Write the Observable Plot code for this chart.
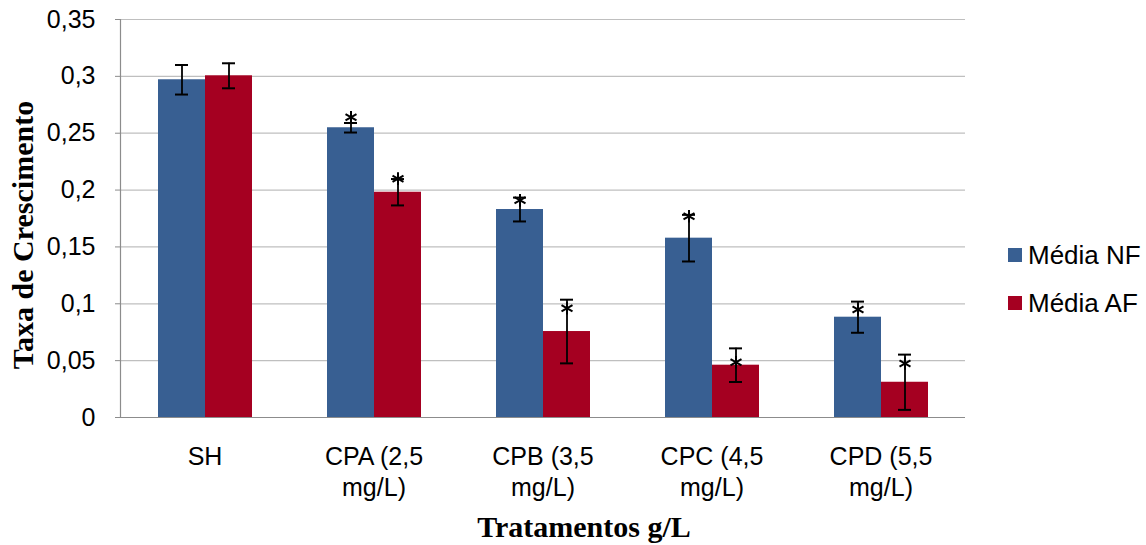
<!DOCTYPE html>
<html>
<head>
<meta charset="utf-8">
<script src="https://cdn.jsdelivr.net/npm/d3@7"></script>
<script src="https://cdn.jsdelivr.net/npm/@observablehq/plot@0.6"></script>
<style>
  html, body { margin: 0; padding: 0; background: #fff; }
  #wrap { position: relative; width: 1146px; height: 545px; font-family: "Liberation Sans", Arial, sans-serif; }
  #wrap svg { position: absolute; left: 0; top: 0; }
  .title { position: absolute; font-family: "Liberation Serif", "Times New Roman", serif; font-weight: bold; font-size: 30px; line-height: 30px; color: #000; white-space: nowrap; }
  #xtitle { left: 0; width: 1168px; top: 512px; text-align: center; }
  #ytitle { left: 23px; top: 235px; transform: translate(-50%, -50%) rotate(-90deg); }
  #legend { position: absolute; left: 1008px; top: 240px; font-size: 26px; color: #000; }
  #legend .row { display: flex; align-items: center; height: 30px; margin-bottom: 18px; }
  #legend .sw { width: 14px; height: 14px; margin-right: 6px; }
</style>
</head>
<body>
<div id="wrap"></div>
<script>
const categories = ["SH", "CPA (2,5\nmg/L)", "CPB (3,5\nmg/L)", "CPC (4,5\nmg/L)", "CPD (5,5\nmg/L)"];
const series = ["Média NF", "Média AF"];
const colors = ["#385F92", "#A50021"];
const mediaNF = [0.297, 0.2548, 0.1829, 0.1577, 0.0882];
const mediaAF = [0.3005, 0.1981, 0.0756, 0.046, 0.031];
const erroNF = [0.013, 0.0042, 0.0105, 0.0205, 0.0137];
const erroAF = [0.011, 0.0116, 0.028, 0.0148, 0.0243];
const asteriscoNF = [null, 0.264, 0.191, 0.177, 0.095];
const asteriscoAF = [null, 0.210, 0.0961, 0.0486, 0.0475];
const yTicks = [0, 0.05, 0.1, 0.15, 0.2, 0.25, 0.3, 0.35];
const yTickLabels = ["0", "0,05", "0,1", "0,15", "0,2", "0,25", "0,3", "0,35"];
const xTitle = "Tratamentos g/L";
const yTitle = "Taxa de Crescimento";

const data = [];
categories.forEach((c, i) => {
  data.push({cat: c, serie: series[0], valor: mediaNF[i], erro: erroNF[i], ast: asteriscoNF[i]});
  data.push({cat: c, serie: series[1], valor: mediaAF[i], erro: erroAF[i], ast: asteriscoAF[i]});
});
data.forEach(d => { d.lo = d.valor - d.erro; d.hi = d.valor + d.erro; });

const chart = Plot.plot({
  width: 1146,
  height: 545,
  marginLeft: 119,
  marginRight: 180,
  marginTop: 19,
  marginBottom: 128,
  style: {fontFamily: "'Liberation Sans', Arial, sans-serif", color: "#000", background: "transparent"},
  fx: {domain: categories, padding: 0},
  x: {domain: series, paddingInner: 0, paddingOuter: 0.78, axis: null},
  y: {domain: [0, 0.35]},
  color: {domain: series, range: colors},
  marks: [
    Plot.gridY(yTicks, {stroke: "#bfbfbf", strokeOpacity: 1, strokeWidth: 1.2}),
    Plot.barY(data, {fx: "cat", x: "serie", y: "valor", fill: "serie"}),
    Plot.ruleX(data, {fx: "cat", x: "serie", y1: "lo", y2: "hi", stroke: "#000", strokeWidth: 1.8}),
    Plot.tickY(data, {fx: "cat", x: "serie", y: "lo", stroke: "#000", strokeWidth: 2, insetLeft: 17, insetRight: 17}),
    Plot.tickY(data, {fx: "cat", x: "serie", y: "hi", stroke: "#000", strokeWidth: 2, insetLeft: 17, insetRight: 17}),
    Plot.dot(data.filter(d => d.ast != null), {fx: "cat", x: "serie", y: "ast", symbol: "asterisk", r: 6, stroke: "#000", strokeWidth: 2}),
    Plot.ruleY([0], {stroke: "#8c8c8c", strokeWidth: 1.2}),
    Plot.frame({anchor: "left", facetAnchor: "left", stroke: "#8c8c8c", strokeWidth: 1.2}),
    Plot.axisY(yTicks, {
      tickFormat: (d) => yTickLabels[yTicks.indexOf(d)],
      tickSize: 5, tickPadding: 20, fontSize: 25, stroke: "#8c8c8c", label: null
    }),
    Plot.axisFx({
      anchor: "bottom", tickSize: 0, tickPadding: 25, fontSize: 25, lineHeight: 1.25, label: null
    })
  ]
});
const wrap = document.getElementById("wrap");
wrap.appendChild(chart);

const xt = document.createElement("div");
xt.className = "title"; xt.id = "xtitle"; xt.textContent = xTitle;
wrap.appendChild(xt);
const yt = document.createElement("div");
yt.className = "title"; yt.id = "ytitle"; yt.textContent = yTitle;
wrap.appendChild(yt);

const legend = document.createElement("div");
legend.id = "legend";
series.forEach((s, i) => {
  const row = document.createElement("div");
  row.className = "row";
  const sw = document.createElement("span");
  sw.className = "sw";
  sw.style.background = colors[i];
  const t = document.createElement("span");
  t.textContent = s;
  row.appendChild(sw);
  row.appendChild(t);
  legend.appendChild(row);
});
wrap.appendChild(legend);
</script>
</body>
</html>
